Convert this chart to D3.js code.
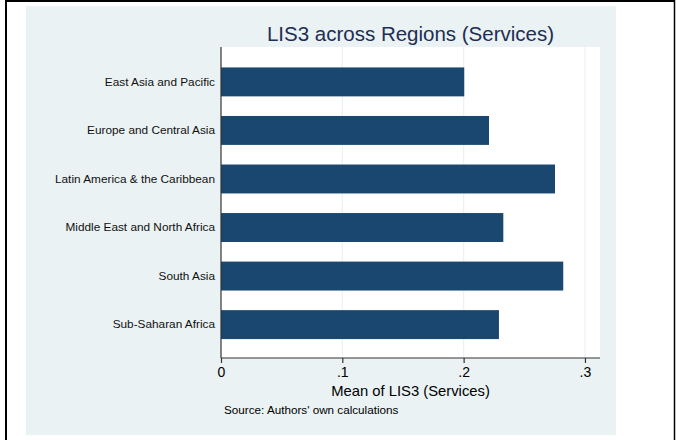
<!DOCTYPE html>
<html>
<head>
<meta charset="utf-8">
<script src="https://cdn.jsdelivr.net/npm/d3@7"></script>
<style>
  html, body { margin: 0; padding: 0; background: #ffffff; }
  svg { display: block; }
  text { font-family: Arial, "Liberation Sans", Helvetica, sans-serif; }
</style>
</head>
<body>
<svg id="chart" width="676" height="440"></svg>
<script>
const categories = [
  "East Asia and Pacific",
  "Europe and Central Asia",
  "Latin America & the Caribbean",
  "Middle East and North Africa",
  "South Asia",
  "Sub-Saharan Africa"
];
const values = [0.2005, 0.2209, 0.2753, 0.2327, 0.2821, 0.2291];
const tickValues = [0, 0.1, 0.2, 0.3];
const tickLabels = ["0", ".1", ".2", ".3"];
const titleText = "LIS3 across Regions (Services)";
const xAxisTitle = "Mean of LIS3 (Services)";
const noteText = "Source: Authors' own calculations";

const svg = d3.select("#chart");

// outer frame lines
svg.append("line").attr("x1", 5).attr("x2", 675).attr("y1", 1).attr("y2", 1)
  .attr("stroke", "#000").attr("stroke-width", 2);
svg.append("line").attr("x1", 6).attr("x2", 6).attr("y1", 0).attr("y2", 440)
  .attr("stroke", "#000").attr("stroke-width", 2);
svg.append("line").attr("x1", 674.5).attr("x2", 674.5).attr("y1", 0).attr("y2", 440)
  .attr("stroke", "#000").attr("stroke-width", 1.5);

// graph region background
svg.append("rect").attr("x", 26).attr("y", 6).attr("width", 590).attr("height", 429)
  .attr("fill", "#eaf2f3");

const plot = { left: 221, right: 600, top: 47, bottom: 358 };

// plot region
svg.append("rect").attr("x", plot.left).attr("y", plot.top)
  .attr("width", plot.right - plot.left).attr("height", plot.bottom - plot.top)
  .attr("fill", "#ffffff");

const x = d3.scaleLinear().domain([0, 0.3124]).range([plot.left, plot.right]);
const y = d3.scaleBand().domain(categories).range([48.5, plot.bottom])
  .paddingInner(0.404).paddingOuter(0.39);

// gridlines
svg.append("g").selectAll("line").data(tickValues.filter(d => d > 0)).join("line")
  .attr("x1", d => x(d)).attr("x2", d => x(d))
  .attr("y1", plot.top).attr("y2", plot.bottom)
  .attr("stroke", "#eaf2f3").attr("stroke-width", 1.2);

// bars
svg.append("g").selectAll("rect").data(categories).join("rect")
  .attr("x", x(0))
  .attr("y", d => y(d))
  .attr("width", (d, i) => x(values[i]) - x(0))
  .attr("height", y.bandwidth())
  .attr("fill", "#1a476f");

// x axis
const xAxis = d3.axisBottom(x).tickValues(tickValues)
  .tickFormat((d, i) => tickLabels[i]).tickSize(5).tickSizeOuter(0);
const gx = svg.append("g").attr("transform", `translate(0,${plot.bottom})`).call(xAxis);
gx.select(".domain").attr("stroke", "#333").attr("stroke-width", 1.2)
  .attr("d", `M${plot.left},0H${plot.right}`);
gx.selectAll(".tick line").attr("stroke", "#333").attr("stroke-width", 1.2);
gx.selectAll(".tick text").attr("fill", "#000").attr("font-size", "14px")
  .attr("font-family", "Arial, 'Liberation Sans', sans-serif").attr("y", 9).attr("dy", "0.71em");

// y axis
const yAxis = d3.axisLeft(y).tickSize(0).tickPadding(6);
const gy = svg.append("g").attr("transform", `translate(${plot.left},0)`).call(yAxis);
gy.select(".domain").attr("stroke", "#333").attr("stroke-width", 1.2)
  .attr("d", `M0,${plot.top}V${plot.bottom}`);
gy.selectAll(".tick text").attr("fill", "#111").attr("font-size", "11.8px")
  .attr("font-family", "Arial, 'Liberation Sans', sans-serif");

// title
svg.append("text").attr("x", (plot.left + plot.right) / 2).attr("y", 40.5)
  .attr("text-anchor", "middle").attr("font-size", "20.5px").attr("fill", "#1e2d53")
  .text(titleText);

// x axis title
svg.append("text").attr("x", (plot.left + plot.right) / 2).attr("y", 396)
  .attr("text-anchor", "middle").attr("font-size", "14.8px").attr("fill", "#000")
  .text(xAxisTitle);

// note
svg.append("text").attr("x", 224).attr("y", 413.5)
  .attr("font-size", "11.7px").attr("fill", "#000")
  .text(noteText);
</script>
</body>
</html>
